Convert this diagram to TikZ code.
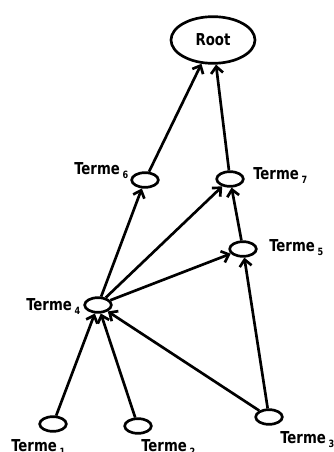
\documentclass[tikz,border=0pt]{standalone}
\usepackage{fontspec}
\setmainfont{DejaVu Sans Condensed}[FakeStretch=0.9]
\usetikzlibrary{shapes.geometric,arrows.meta}

\newcommand{\idx}[1]{\,\raisebox{-3pt}{\fontsize{7.5}{8}\selectfont #1}}

\begin{document}
\begin{tikzpicture}[x=0.75pt,y=-0.75pt,line width=2pt,
    >={Straight Barb[length=5pt,width=9pt]},
    terme/.style={draw,ellipse,minimum width=20pt,minimum height=11pt,inner sep=0pt},
    lbl/.style={anchor=base west,inner sep=0pt,font=\bfseries\fontsize{12.3}{14}\selectfont}]

            \useasboundingbox (0,0) rectangle (334,452);

            \node[draw,ellipse,minimum width=63pt,minimum height=35pt,inner sep=0pt,
                font=\bfseries\fontsize{12.3}{14}\selectfont] (root) at (213,40) {Root};

            \node[terme] (t6) at (145,180) {};
            \node[terme] (t7) at (230,179) {};
            \node[terme] (t5) at (243,249) {};
            \node[terme] (t4) at (98,305) {};
            \node[terme] (t1) at (53,424) {};
            \node[terme] (t2) at (138,426) {};
            \node[terme] (t3) at (269,417) {};

            \node[lbl] (l6) at (73,175) {Terme\idx{6}};
            \node[lbl] (l7) at (252,180) {Terme\idx{7}};
            \node[lbl] (l5) at (268,251) {Terme\idx{5}};
            \node[lbl] (l4) at (25,310) {Terme\idx{4}};
            \node[lbl] (l1) at (10,451) {Terme\idx{1}};
            \node[lbl] (l2) at (140,451) {Terme\idx{2}};
            \node[lbl] (l3) at (279,443) {Terme\idx{3}};

            \draw[->] (t6) -- (root);
            \draw[->] (t7) -- (root);

            \draw[->] (t4) -- (t6);
            \draw[->] (t4) -- (t7);
            \draw[->] (t4) -- (t5);
            \draw[->] (t5) -- (t7);

            \draw[->] (t1) -- (t4);
            \draw[->] (t2) -- (t4);
            \draw[->] (t3) -- (t4);
            \draw[->] (t3) -- (t5);

\end{tikzpicture}
\end{document}
